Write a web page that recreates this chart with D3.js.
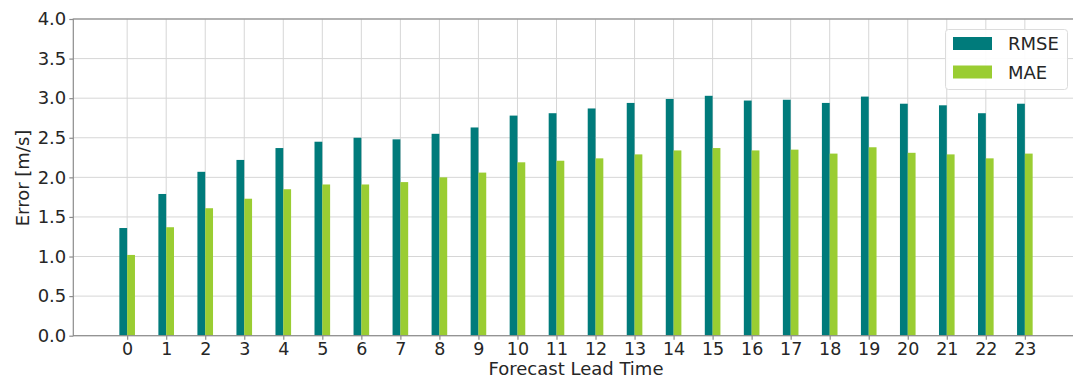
<!DOCTYPE html>
<html>
<head>
<meta charset="utf-8">
<script src="https://cdn.jsdelivr.net/npm/d3@7"></script>
<style>
  html, body { margin: 0; padding: 0; background: #fff; }
  svg { display: block; }
  text { font-family: "DejaVu Sans", sans-serif; fill: #262626; }
</style>
</head>
<body>
<svg id="chart" width="1073" height="385"></svg>
<script>
// Forecast lead times (hours) and error metrics per lead time
const leadTimes = [0,1,2,3,4,5,6,7,8,9,10,11,12,13,14,15,16,17,18,19,20,21,22,23];
const rmse = [1.36,1.79,2.07,2.22,2.37,2.45,2.50,2.48,2.55,2.63,2.78,2.81,2.87,2.94,2.99,3.03,2.97,2.98,2.94,3.02,2.93,2.91,2.81,2.93];
const mae  = [1.02,1.37,1.61,1.73,1.85,1.91,1.91,1.94,2.00,2.06,2.19,2.21,2.24,2.29,2.34,2.37,2.34,2.35,2.30,2.38,2.31,2.29,2.24,2.30];
const yTicks = [0,0.5,1.0,1.5,2.0,2.5,3.0,3.5,4.0];
const seriesNames = ["RMSE", "MAE"];
const seriesColors = ["#007b7b", "#9acd32"];

const svg = d3.select("#chart");
const plotLeft = 73.3, plotTop = 19, plotBottom = 335.7;
const unit = 39.03;
const x = d3.scaleLinear().domain([-1.38, 24.38]).range([plotLeft, plotLeft + 25.76 * unit]);
const y = d3.scaleLinear().domain([0, 4]).range([plotBottom, plotTop]);
const plotRight = x.range()[1];
const barW = 0.2;
const fs = 18;

svg.append("defs").append("clipPath").attr("id", "plotclip")
  .append("rect").attr("x", 0).attr("y", 0).attr("width", 1073).attr("height", 385);

const g = svg.append("g").attr("clip-path", "url(#plotclip)");

// grid
g.append("g").selectAll("line").data(leadTimes).join("line")
  .attr("x1", d => x(d)).attr("x2", d => x(d))
  .attr("y1", plotTop).attr("y2", plotBottom)
  .attr("stroke", "#d6d6d6").attr("stroke-width", 1);
g.append("g").selectAll("line").data(yTicks).join("line")
  .attr("x1", plotLeft).attr("x2", plotRight)
  .attr("y1", d => y(d)).attr("y2", d => y(d))
  .attr("stroke", "#d6d6d6").attr("stroke-width", 1);

// bars
const series = [rmse, mae];
series.forEach((vals, si) => {
  g.append("g").selectAll("rect").data(vals).join("rect")
    .attr("x", (d, i) => x(leadTimes[i] + (si === 0 ? -barW : 0)))
    .attr("width", x(barW) - x(0))
    .attr("y", d => y(d))
    .attr("height", d => y(0) - y(d))
    .attr("fill", seriesColors[si]);
});

// spines
g.append("rect").attr("x", plotLeft).attr("y", plotTop)
  .attr("width", plotRight - plotLeft).attr("height", plotBottom - plotTop)
  .attr("fill", "none").attr("stroke", "#8c8c8c").attr("stroke-width", 1.2);

// y axis ticks and labels
const yAxis = d3.axisLeft(y).tickValues(yTicks).tickFormat(d3.format(".1f"))
  .tickSize(4).tickPadding(3);
const ya = svg.append("g").attr("transform", `translate(${plotLeft},0)`).call(yAxis);
ya.select(".domain").remove();
ya.selectAll(".tick line").attr("stroke", "#8c8c8c").attr("stroke-width", 1.2);
ya.selectAll(".tick text").attr("font-size", fs).attr("font-family", "DejaVu Sans").attr("fill", "#262626");

// x axis ticks and labels
const xAxis = d3.axisBottom(x).tickValues(leadTimes).tickFormat(d3.format("d"))
  .tickSize(4).tickPadding(3);
const xa = svg.append("g").attr("transform", `translate(0,${plotBottom})`).call(xAxis);
xa.select(".domain").remove();
xa.selectAll(".tick line").attr("stroke", "#8c8c8c").attr("stroke-width", 1.2);
xa.selectAll(".tick text").attr("font-size", 17.5).attr("font-family", "DejaVu Sans").attr("fill", "#262626");

// axis titles
svg.append("text").attr("x", 576).attr("y", 375).attr("text-anchor", "middle")
  .attr("font-size", fs).text("Forecast Lead Time");
svg.append("text").attr("transform", "translate(29,178) rotate(-90)")
  .attr("text-anchor", "middle").attr("font-size", fs).text("Error [m/s]");

// legend
const lg = svg.append("g");
lg.append("rect").attr("x", 945.5).attr("y", 29.5).attr("width", 122).attr("height", 60)
  .attr("rx", 3).attr("fill", "#fff").attr("fill-opacity", 0.9)
  .attr("stroke", "#dcdcdc").attr("stroke-width", 1);
seriesNames.forEach((name, i) => {
  const yy = 37 + i * 28.5;
  lg.append("rect").attr("x", 953).attr("y", yy).attr("width", 39).attr("height", 13)
    .attr("fill", seriesColors[i]);
  lg.append("text").attr("x", 1008).attr("y", yy + 13).attr("font-size", fs).text(name);
});
</script>
</body>
</html>
